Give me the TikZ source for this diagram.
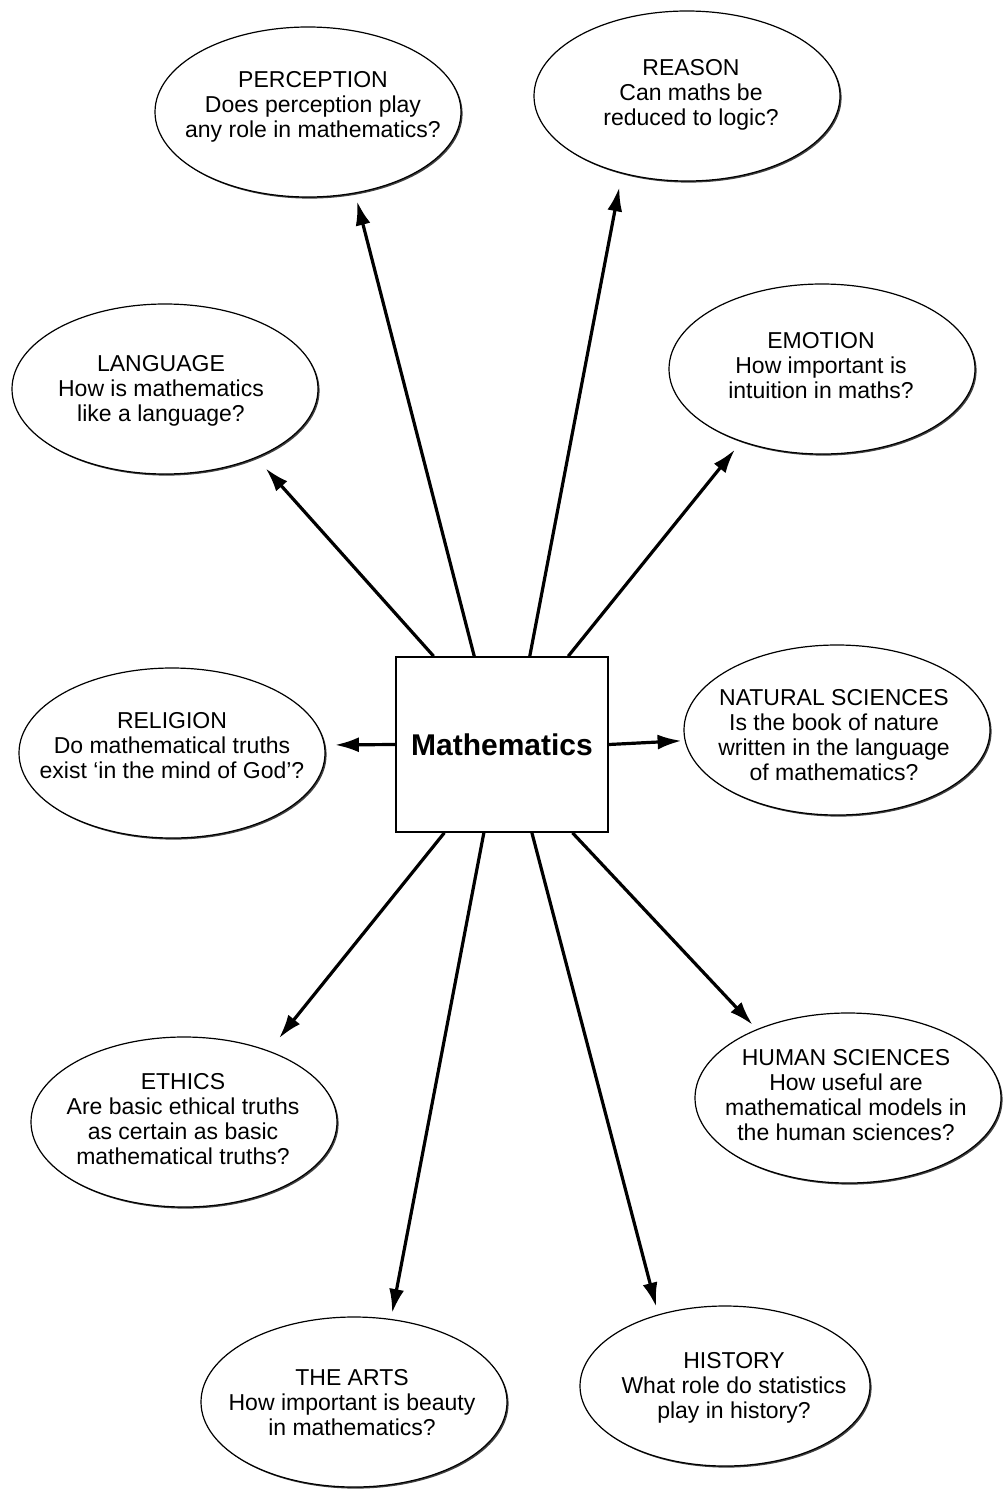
\documentclass[tikz,border=0pt]{standalone}
\usepackage{fontspec}
\setmainfont{Liberation Sans}
\usetikzlibrary{arrows.meta,shapes.geometric,shadows,calc}
\begin{document}
\begin{tikzpicture}[x=1pt,y=-1pt,
  ell/.style={ellipse,draw,line width=1.2pt,fill=white,minimum width=306pt,minimum height=170pt,inner sep=0pt,
    drop shadow={shadow xshift=1.6pt,shadow yshift=-1.6pt,fill=black!75,opacity=1}},
  lbl/.style={align=center,font=\fontsize{23}{25}\selectfont,inner sep=0pt},
  arr/.style={line width=3.2pt,-{Latex[length=24pt,width=15pt]}},
  mbox/.style={draw,line width=1.6pt,minimum width=212pt,minimum height=175pt,inner sep=0pt,font=\bfseries\fontsize{30}{36}\selectfont}
]
\useasboundingbox (0,0) rectangle (1003,1491);

% ellipses
\node[ell] (per) at (308,112) {};
\node[ell] (rea) at (687,96) {};
\node[ell] (lan) at (165,389) {};
\node[ell] (emo) at (822,369) {};
\node[ell] (rel) at (172,753) {};
\node[ell] (nat) at (837,730) {};
\node[ell] (eth) at (184,1122) {};
\node[ell] (hum) at (848,1098) {};
\node[ell] (art) at (354,1402) {};
\node[ell,minimum width=290pt,minimum height=160pt] (his) at (725,1386) {};

% labels
\node[lbl] (per-t) at (313,107) {PERCEPTION\\Does perception play\\any role in mathematics?};
\node[lbl] (rea-t) at (691,95) {REASON\\Can maths be\\reduced to logic?};
\node[lbl] (lan-t) at (161,391) {LANGUAGE\\How is mathematics\\like a language?};
\node[lbl] (emo-t) at (821,366) {EMOTION\\How important is\\intuition in maths?};
\node[lbl] (rel-t) at (172,746) {RELIGION\\Do mathematical truths\\exist `in the mind of God'?};
\node[lbl] (nat-t) at (834,735) {NATURAL SCIENCES\\Is the book of nature\\written in the language\\of mathematics?};
\node[lbl] (eth-t) at (183,1119) {ETHICS\\Are basic ethical truths\\as certain as basic\\mathematical truths?};
\node[lbl] (hum-t) at (846,1095) {HUMAN SCIENCES\\How useful are\\mathematical models in\\the human sciences?};
\node[lbl] (art-t) at (352,1403) {THE ARTS\\How important is beauty\\in mathematics?};
\node[lbl] (his-t) at (734,1388) {HISTORY\\What role do statistics\\play in history?};

% centre box
\node[mbox] (m) at (502,744.5) {Mathematics};

% connectors
\draw[arr,shorten >=8pt] ($(m.north west)!0.37!(m.north east)$) -- (per.300);
\draw[arr,shorten >=14pt] ($(m.north west)!0.63!(m.north east)$) -- (rea.230);
\draw[arr,shorten >=14pt] ($(m.north west)!0.18!(m.north east)$) -- (lan.323);
\draw[arr,shorten >=10pt] ($(m.north west)!0.81!(m.north east)$) -- (emo.222);
\draw[arr,shorten >=10pt] (m.west) -- (rel.3);
\draw[arr,shorten >=3pt] (m.east) -- (nat.184);
\draw[arr,shorten >=16pt] ($(m.south west)!0.23!(m.south east)$) -- (eth.40);
\draw[arr,shorten >=6pt] ($(m.south west)!0.83!(m.south east)$) -- (hum.143);
\draw[arr,shorten >=6pt] ($(m.south west)!0.415!(m.south east)$) -- (art.66);
\draw[arr,shorten >=8pt] ($(m.south west)!0.64!(m.south east)$) -- (his.133);
\end{tikzpicture}
\end{document}
